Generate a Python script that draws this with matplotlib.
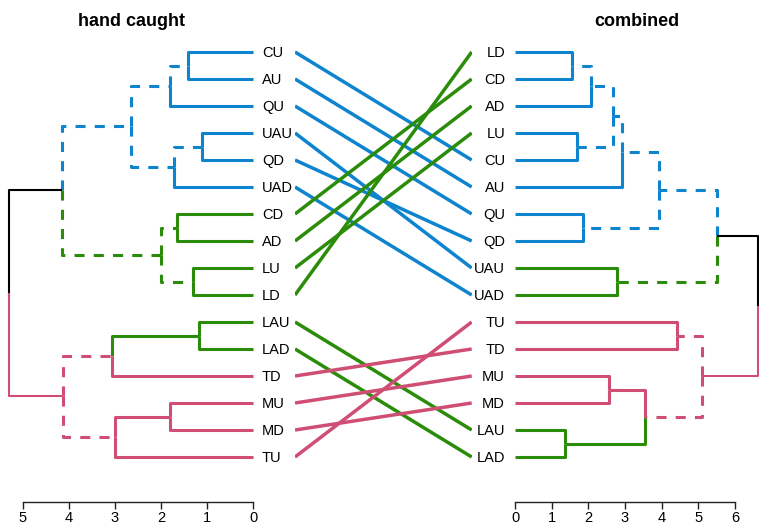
import matplotlib.pyplot as plt

plt.rcParams['font.family'] = ['Liberation Sans', 'DejaVu Sans']

BLUE = '#0e84cf'
GREEN = '#2b8c0a'
PINK = '#d04e73'

# leaf order (top to bottom) of each tree
left_leaves = ['CU', 'AU', 'QU', 'UAU', 'QD', 'UAD', 'CD', 'AD',
               'LU', 'LD', 'LAU', 'LAD', 'TD', 'MU', 'MD', 'TU']
right_leaves = ['LD', 'CD', 'AD', 'LU', 'CU', 'AU', 'QU', 'QD',
                'UAU', 'UAD', 'TU', 'TD', 'MU', 'MD', 'LAU', 'LAD']

# merges: (child a, child b, height); ints refer to earlier merges
left_merges = [
    ('CU', 'AU', 1.42), (0, 'QU', 1.80), ('UAU', 'QD', 1.10), (2, 'UAD', 1.72),
    (1, 3, 2.66), ('CD', 'AD', 1.66), ('LU', 'LD', 1.31), (5, 6, 2.01),
    (4, 7, 4.15), ('LAU', 'LAD', 1.17), (9, 'TD', 3.07), ('MU', 'MD', 1.80),
    (11, 'TU', 3.00), (10, 12, 4.14), (8, 13, 5.30),
]
right_merges = [
    ('LD', 'CD', 1.55), (0, 'AD', 2.06), ('LU', 'CU', 1.68), (1, 2, 2.68),
    (3, 'AU', 2.91), ('QU', 'QD', 1.86), (4, 5, 3.93), ('UAU', 'UAD', 2.77),
    (6, 7, 5.50), ('TU', 'TD', 4.43), ('MU', 'MD', 2.55), ('LAU', 'LAD', 1.36),
    (10, 11, 3.55), (9, 12, 5.11), (8, 13, 6.62),
]

# leaf groups (colours)
left_blue = ['CU', 'AU', 'QU', 'UAU', 'QD', 'UAD']
left_green = ['CD', 'AD', 'LU', 'LD', 'LAU', 'LAD']
left_pink = ['TD', 'MU', 'MD', 'TU']
right_blue = ['LD', 'CD', 'AD', 'LU', 'CU', 'AU', 'QU', 'QD']
right_green = ['UAU', 'UAD', 'LAU', 'LAD']
right_pink = ['TU', 'TD', 'MU', 'MD']

# branches that are distinct between the two trees (drawn dashed)
left_distinct = [0, 1, 2, 3, 4, 5, 6, 7, 10, 12]
right_distinct = [0, 1, 2, 3, 4, 5, 6, 7, 9, 12]


def leaf_colors(blue, green, pink):
    c = {}
    for n in blue:
        c[n] = BLUE
    for n in green:
        c[n] = GREEN
    for n in pink:
        c[n] = PINK
    return c


def draw_tree(ax, leaves, merges, lcol, override, distinct):
    ypos = {n: i for i, n in enumerate(leaves)}
    hpos = {n: 0.0 for n in leaves}
    col = dict(lcol)
    members = {n: [n] for n in leaves}
    for k, (a, b, h) in enumerate(merges):
        ypos[k] = (ypos[a] + ypos[b]) / 2
        hpos[k] = h
        members[k] = members[a] + members[b]
        cs = set(col[m] for m in members[k])
        col[k] = override.get(k, cs.pop() if len(cs) == 1 else 'black')
    root = len(merges) - 1
    for k, (a, b, h) in enumerate(merges):
        for c in (a, b):
            lw = 1.5 if k == root else 2.2
            ls = (0, (3.3, 3.0)) if c in distinct else '-'
            ax.plot([h, h, hpos[c]], [ypos[k], ypos[c], ypos[c]],
                    color=col[c], lw=lw, linestyle=ls, clip_on=False,
                    solid_capstyle='butt', dash_capstyle='butt')


W, H = 759, 530
fig = plt.figure(figsize=(W / 100, H / 100), dpi=100)

y_top, y_bot = 30, 501.7
ylim = ((y_bot - 52) / 27, (y_top - 52) / 27)
ax_h = (y_bot - y_top) / H
ax_b = (H - y_bot) / H

axL = fig.add_axes([0, ax_b, 253 / W, ax_h])
axR = fig.add_axes([515 / W, ax_b, (W - 515) / W, ax_h])
axM = fig.add_axes([295 / W, ax_b, 176.7 / W, ax_h])

lc_left = leaf_colors(left_blue, left_green, left_pink)
lc_right = leaf_colors(right_blue, right_green, right_pink)

draw_tree(axL, left_leaves, left_merges, lc_left,
          {8: 'black', 10: PINK, 13: PINK}, left_distinct)
draw_tree(axR, right_leaves, right_merges, lc_right,
          {8: 'black', 12: PINK, 13: PINK}, right_distinct)

axL.set_xlim(253 / 46, 0)
axR.set_xlim(0, (W - 515) / 36.67)

for i, n in enumerate(left_leaves):
    axL.annotate(n, (0, i), xytext=(6.5, -3.7), textcoords='offset points',
                 ha='left', va='baseline', fontsize=10.5, annotation_clip=False)
for i, n in enumerate(right_leaves):
    axR.annotate(n, (0, i), xytext=(-7.2, -3.7), textcoords='offset points',
                 ha='right', va='baseline', fontsize=10.5, annotation_clip=False)

# connecting lines, coloured by the left tree
for i, n in enumerate(left_leaves):
    j = right_leaves.index(n)
    axM.plot([0, 1], [i, j], color=lc_left[n], lw=2.5, solid_capstyle='butt')
axM.set_xlim(0, 1)
axM.set_ylim(*ylim)
axM.axis('off')

for ax, ticks in ((axL, [5, 4, 3, 2, 1, 0]), (axR, [0, 1, 2, 3, 4, 5, 6])):
    ax.set_ylim(*ylim)
    for s in ('top', 'left', 'right'):
        ax.spines[s].set_visible(False)
    ax.spines['bottom'].set_bounds(min(ticks), max(ticks))
    ax.spines['bottom'].set_color('#222222')
    ax.spines['bottom'].set_linewidth(1.0)
    ax.set_xticks(ticks)
    ax.set_yticks([])
    ax.tick_params(axis='x', direction='out', length=5, width=1.0,
                   color='#222222', labelsize=10.5, pad=1.5)
    ax.patch.set_visible(False)

fig.text(131 / W, 1 - 26 / H, 'hand caught', ha='center', va='baseline',
         fontsize=13, fontweight='bold')
fig.text(637 / W, 1 - 26 / H, 'combined', ha='center', va='baseline',
         fontsize=13, fontweight='bold')

fig.savefig('out.png', dpi=100)
